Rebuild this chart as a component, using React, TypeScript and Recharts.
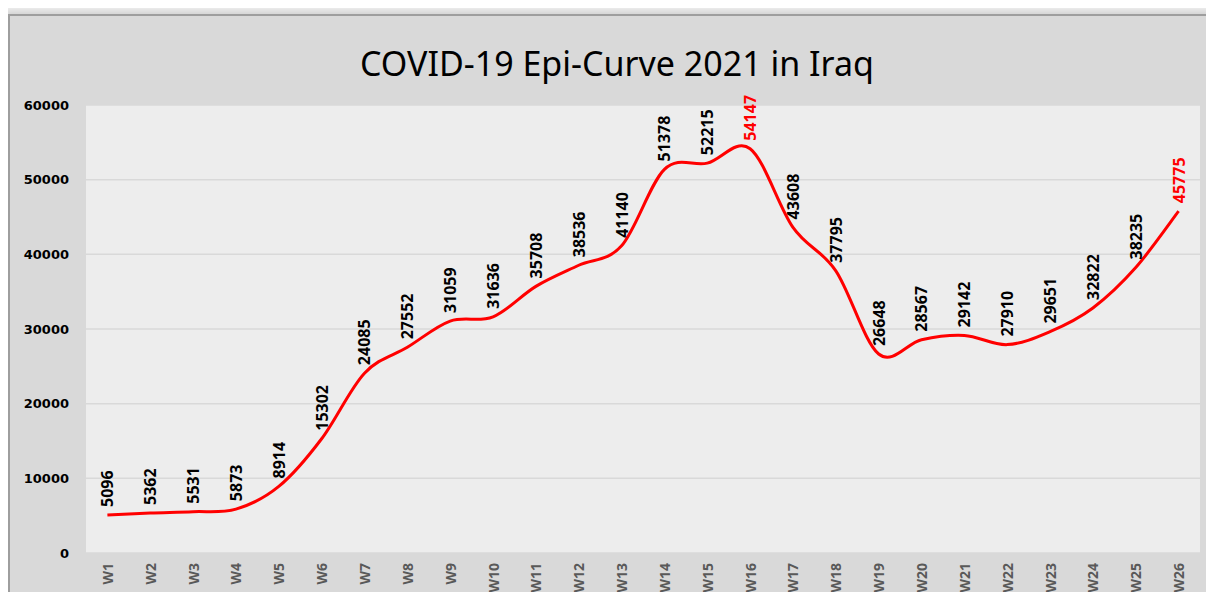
import { LineChart, Line, XAxis, YAxis, CartesianGrid, LabelList } from 'recharts';

const weeks = [
  'W1', 'W2', 'W3', 'W4', 'W5', 'W6', 'W7', 'W8', 'W9', 'W10', 'W11', 'W12', 'W13',
  'W14', 'W15', 'W16', 'W17', 'W18', 'W19', 'W20', 'W21', 'W22', 'W23', 'W24', 'W25', 'W26',
];
const cases = [
  5096, 5362, 5531, 5873, 8914, 15302, 24085, 27552, 31059, 31636, 35708, 38536, 41140,
  51378, 52215, 54147, 43608, 37795, 26648, 28567, 29142, 27910, 29651, 32822, 38235, 45775,
];
const highlighted = ['W16', 'W26'];
const yTicks = [0, 10000, 20000, 30000, 40000, 50000, 60000];

const chartData = weeks.map((week, i) => ({ week, cases: cases[i] }));

// Excel-style smoothed line (uniform Catmull-Rom as cubic Bezier)
function smoothCurve(context: any) {
  let pts: [number, number][] = [];
  return {
    areaStart() {},
    areaEnd() {},
    lineStart() {
      pts = [];
    },
    lineEnd() {
      const n = pts.length;
      if (!n) return;
      context.moveTo(pts[0][0], pts[0][1]);
      for (let i = 0; i < n - 1; i++) {
        const p0 = pts[Math.max(i - 1, 0)];
        const p1 = pts[i];
        const p2 = pts[i + 1];
        const p3 = pts[Math.min(i + 2, n - 1)];
        context.bezierCurveTo(
          p1[0] + (p2[0] - p0[0]) / 6,
          p1[1] + (p2[1] - p0[1]) / 6,
          p2[0] - (p3[0] - p1[0]) / 6,
          p2[1] - (p3[1] - p1[1]) / 6,
          p2[0],
          p2[1],
        );
      }
    },
    point(x: number, y: number) {
      pts.push([+x, +y]);
    },
  };
}

function WeekTick({ x, y, payload }: any) {
  return (
    <text
      x={x}
      y={y}
      transform={`rotate(-90, ${x}, ${y})`}
      textAnchor="end"
      dominantBaseline="central"
      fill="#595959"
      fontFamily="Noto Sans"
      fontWeight="bold"
      fontSize={14}
    >
      {payload.value}
    </text>
  );
}

function ValueLabel({ x, y, value, index }: any) {
  const ly = y - 8;
  const red = highlighted.includes(weeks[index]);
  return (
    <text
      x={x}
      y={ly}
      transform={`rotate(-90, ${x}, ${ly})`}
      textAnchor="start"
      dominantBaseline="central"
      fill={red ? '#ff0000' : '#000000'}
      fontFamily="Noto Sans"
      fontWeight="bold"
      fontSize={16}
    >
      {value}
    </text>
  );
}

export default function App() {
  return (
    <div style={{ position: 'relative', width: 1214, height: 600, margin: -8, background: '#efefef', overflow: 'hidden' }}>
      <div
        style={{
          position: 'absolute',
          left: 8,
          top: 14,
          width: 1230,
          height: 620,
          background: '#d9d9d9',
          border: '2px solid #9e9e9e',
          boxShadow: '-3px -3px 6px rgba(0,0,0,0.12)',
        }}
      />
      <div
        style={{
          position: 'absolute',
          left: 0,
          top: 43,
          width: 1234,
          textAlign: 'center',
          fontFamily: 'Noto Sans',
          fontSize: 34,
          lineHeight: '40px',
          color: '#000',
        }}
      >
        COVID-19 Epi-Curve 2021 in Iraq
      </div>
      <div style={{ position: 'absolute', left: 0, top: 0 }}>
        <LineChart
          width={1214}
          height={600}
          data={chartData}
          margin={{ top: 105, right: 14, bottom: 7, left: 26 }}
        >
          <CartesianGrid vertical={false} stroke="#d9d9d9" strokeWidth={1.5} fill="#ededed" />
          <XAxis
            dataKey="week"
            interval={0}
            axisLine={false}
            tickLine={false}
            tickMargin={4}
            height={40}
            padding={{ left: 21.4, right: 21.4 }}
            tick={<WeekTick />}
          />
          <YAxis
            domain={[0, 60000]}
            ticks={yTicks}
            axisLine={false}
            tickLine={false}
            width={60}
            tickMargin={11}
            tick={{ fill: '#000', fontFamily: 'DejaVu Sans', fontWeight: 'bold', fontSize: 13 }}
          />
          <Line
            dataKey="cases"
            type={smoothCurve as any}
            stroke="#ff0000"
            strokeWidth={3}
            dot={false}
            isAnimationActive={false}
          >
            <LabelList dataKey="cases" content={<ValueLabel />} />
          </Line>
        </LineChart>
      </div>
    </div>
  );
}
